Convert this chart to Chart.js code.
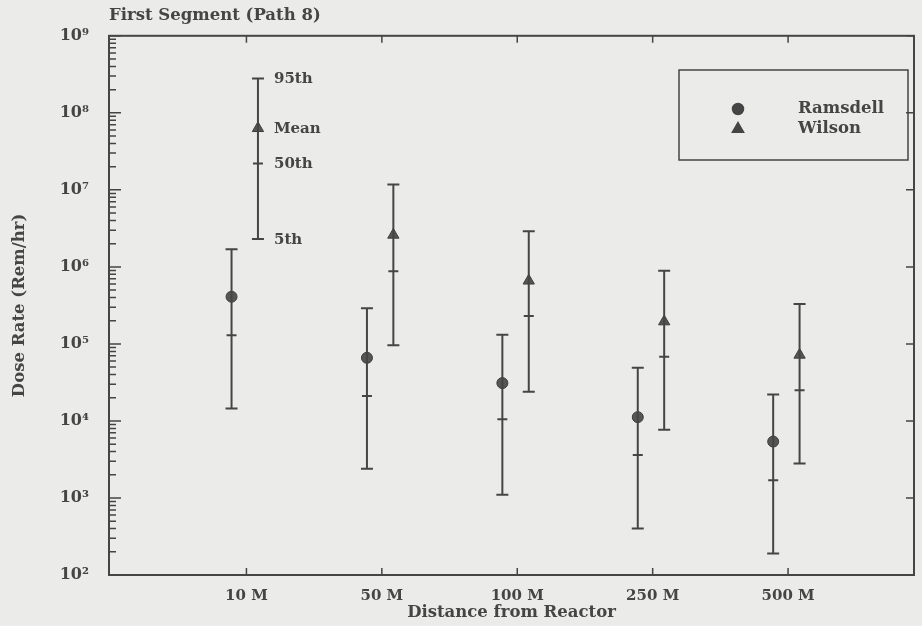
<!DOCTYPE html>
<html>
<head>
<meta charset="utf-8">
<script src="https://cdn.jsdelivr.net/npm/chart.js@4/dist/chart.umd.min.js"></script>
<style>
  html, body { margin: 0; padding: 0; background: #ebebe9; }
  #wrap { width: 922px; height: 626px; }
</style>
</head>
<body>
<div id="wrap"><canvas id="chart" width="922" height="626"></canvas></div>
<script>
// distances from reactor (x categories)
const distances = ['10 M', '50 M', '100 M', '250 M', '500 M'];

// Ramsdell model: mean and percentiles (Rem/hr)
const ramsdellMean = [4.1e5, 6.6e4, 3.1e4, 1.12e4, 5.4e3];
const ramsdellP95 = [1.7e6, 2.9e5, 1.32e5, 4.9e4, 2.2e4];
const ramsdellP50 = [1.3e5, 2.1e4, 1.05e4, 3.6e3, 1.7e3];
const ramsdellP5 = [1.45e4, 2.4e3, 1.1e3, 4.0e2, 1.9e2];

// Wilson model (first one doubles as the key)
const wilsonMean = [6.3e7, 2.6e6, 6.6e5, 1.95e5, 7.2e4];
const wilsonP95 = [2.8e8, 1.17e7, 2.9e6, 8.9e5, 3.3e5];
const wilsonP50 = [2.2e7, 8.8e5, 2.3e5, 6.8e4, 2.5e4];
const wilsonP5 = [2.3e6, 9.6e4, 2.4e4, 7.7e3, 2.8e3];

const keyLabels = ['95th', 'Mean', '50th', '5th'];
const yDecades = [1e2, 1e3, 1e4, 1e5, 1e6, 1e7, 1e8, 1e9];

const INK = '#454545';
const FONT = "'DejaVu Serif', serif";
const R_OFF = -0.11, W_OFF = 0.085;

const sup = { '0': '⁰', '1': '¹', '2': '²', '3': '³', '4': '⁴', '5': '⁵', '6': '⁶', '7': '⁷', '8': '⁸', '9': '⁹' };

const pos = (off) => distances.map((d, i) => i + 1 + off);
function stems(xs, lo, hi) {
  const out = [];
  xs.forEach((x, i) => { out.push({ x, y: lo[i] }, { x, y: hi[i] }, { x, y: null }); });
  return out;
}
const pts = (xs, ys) => xs.map((x, i) => ({ x, y: ys[i] }));

function seriesSets(off, mean, p95, p50, p5, style, label) {
  const xs = pos(off);
  return [
    { type: 'scatter', data: stems(xs, p5, p95), showLine: true, spanGaps: false,
      borderColor: INK, borderWidth: 2, pointRadius: 0 },
    { type: 'scatter', data: pts(xs, p5).concat(pts(xs, p95)), pointStyle: 'line',
      pointRadius: 6, borderColor: INK, borderWidth: 2 },
    { type: 'scatter', data: pts(xs, p50), pointStyle: 'line',
      pointRadius: 5, borderColor: INK, borderWidth: 2 },
    { type: 'scatter', label, data: pts(xs, mean), pointStyle: style,
      pointRadius: style === 'circle' ? 5.5 : 6.5, backgroundColor: '#555', borderColor: '#3c3c3c', borderWidth: 1 },
  ];
}

const frame = {
  id: 'frame',
  afterDatasetsDraw(chart) {
    const { ctx, chartArea: a, scales: { x, y } } = chart;
    ctx.save();
    ctx.strokeStyle = INK;
    ctx.lineWidth = 2;
    ctx.strokeRect(a.left, a.top, a.right - a.left, a.bottom - a.top);

    // inward tick marks
    ctx.lineWidth = 1.5;
    ctx.beginPath();
    for (let d = 2; d <= 9; d++) {
      for (let m = 1; m <= 9; m++) {
        const v = m * Math.pow(10, d);
        if (v > 1e9) break;
        const py = y.getPixelForValue(v);
        ctx.moveTo(a.left, py);
        ctx.lineTo(a.left + (m === 1 ? 12 : 7), py);
        if (m === 1) { ctx.moveTo(a.right, py); ctx.lineTo(a.right - 8, py); }
      }
    }
    distances.forEach((d, i) => {
      const px = x.getPixelForValue(i + 1);
      ctx.moveTo(px, a.bottom); ctx.lineTo(px, a.bottom - 7);
      ctx.moveTo(px, a.top); ctx.lineTo(px, a.top + 7);
    });
    ctx.stroke();

    // key labels beside the first Wilson bar
    ctx.fillStyle = INK;
    ctx.font = 'bold 15px ' + FONT;
    ctx.textAlign = 'left';
    ctx.textBaseline = 'middle';
    const kx = x.getPixelForValue(1 + W_OFF) + 16;
    [wilsonP95[0], wilsonMean[0], wilsonP50[0], wilsonP5[0]].forEach((v, i) => {
      ctx.fillText(keyLabels[i], kx, y.getPixelForValue(v) + 1);
    });

    // legend box
    ctx.lineWidth = 1.5;
    ctx.strokeRect(679, 70, 229, 90);
    Chart.helpers.drawPoint(ctx, { pointStyle: 'circle', radius: 5.5, borderWidth: 1 }, 738, 109);
    Chart.helpers.drawPoint(ctx, { pointStyle: 'triangle', radius: 6.5, borderWidth: 1 }, 738, 129);
    ctx.font = 'bold 16.5px ' + FONT;
    ctx.fillText('Ramsdell', 798, 109);
    ctx.fillText('Wilson', 798, 129);
    ctx.restore();
  }
};

Chart.defaults.font.family = FONT;
Chart.defaults.font.weight = 'bold';
Chart.defaults.font.size = 15;
Chart.defaults.color = INK;

new Chart(document.getElementById('chart'), {
  type: 'scatter',
  data: {
    datasets: [
      ...seriesSets(R_OFF, ramsdellMean, ramsdellP95, ramsdellP50, ramsdellP5, 'circle', 'Ramsdell'),
      ...seriesSets(W_OFF, wilsonMean, wilsonP95, wilsonP50, wilsonP5, 'triangle', 'Wilson'),
    ]
  },
  options: {
    responsive: false,
    animation: false,
    events: [],
    layout: { padding: { left: 0, right: -4, top: 0, bottom: 0 } },
    plugins: {
      legend: { display: false },
      tooltip: { enabled: false },
      title: {
        display: true,
        text: 'First Segment (Path 8)',
        align: 'start',
        fullSize: false,
        font: { size: 16.5, weight: 'bold' },
        padding: { top: 6, bottom: 10 }
      }
    },
    scales: {
      x: {
        type: 'linear',
        min: -0.015,
        max: 5.93,
        grid: { display: false, drawTicks: false },
        border: { display: false },
        afterBuildTicks: (s) => { s.ticks = distances.map((d, i) => ({ value: i + 1 })); },
        afterFit: (s) => { s.height = 51; },
        ticks: {
          autoSkip: false,
          maxRotation: 0,
          padding: 12,
          callback: (v) => distances[Math.round(v) - 1]
        },
        title: { display: true, text: 'Distance from Reactor', font: { size: 16.5 }, padding: { top: 0, bottom: 3 } }
      },
      y: {
        type: 'logarithmic',
        min: 1e2,
        max: 1e9,
        grid: { display: false, drawTicks: false },
        border: { display: false },
        afterBuildTicks: (s) => { s.ticks = yDecades.map(v => ({ value: v })); },
        afterFit: (s) => { s.width = 109; },
        ticks: {
          autoSkip: false,
          padding: 20,
          font: { size: 16 },
          callback: (v) => '10' + String(Math.round(Math.log10(v))).split('').map(c => sup[c]).join('')
        },
        title: { display: true, text: 'Dose Rate (Rem/hr)', font: { size: 16.5 }, padding: { top: 10, bottom: 0 } }
      }
    }
  },
  plugins: [frame]
});
</script>
</body>
</html>
